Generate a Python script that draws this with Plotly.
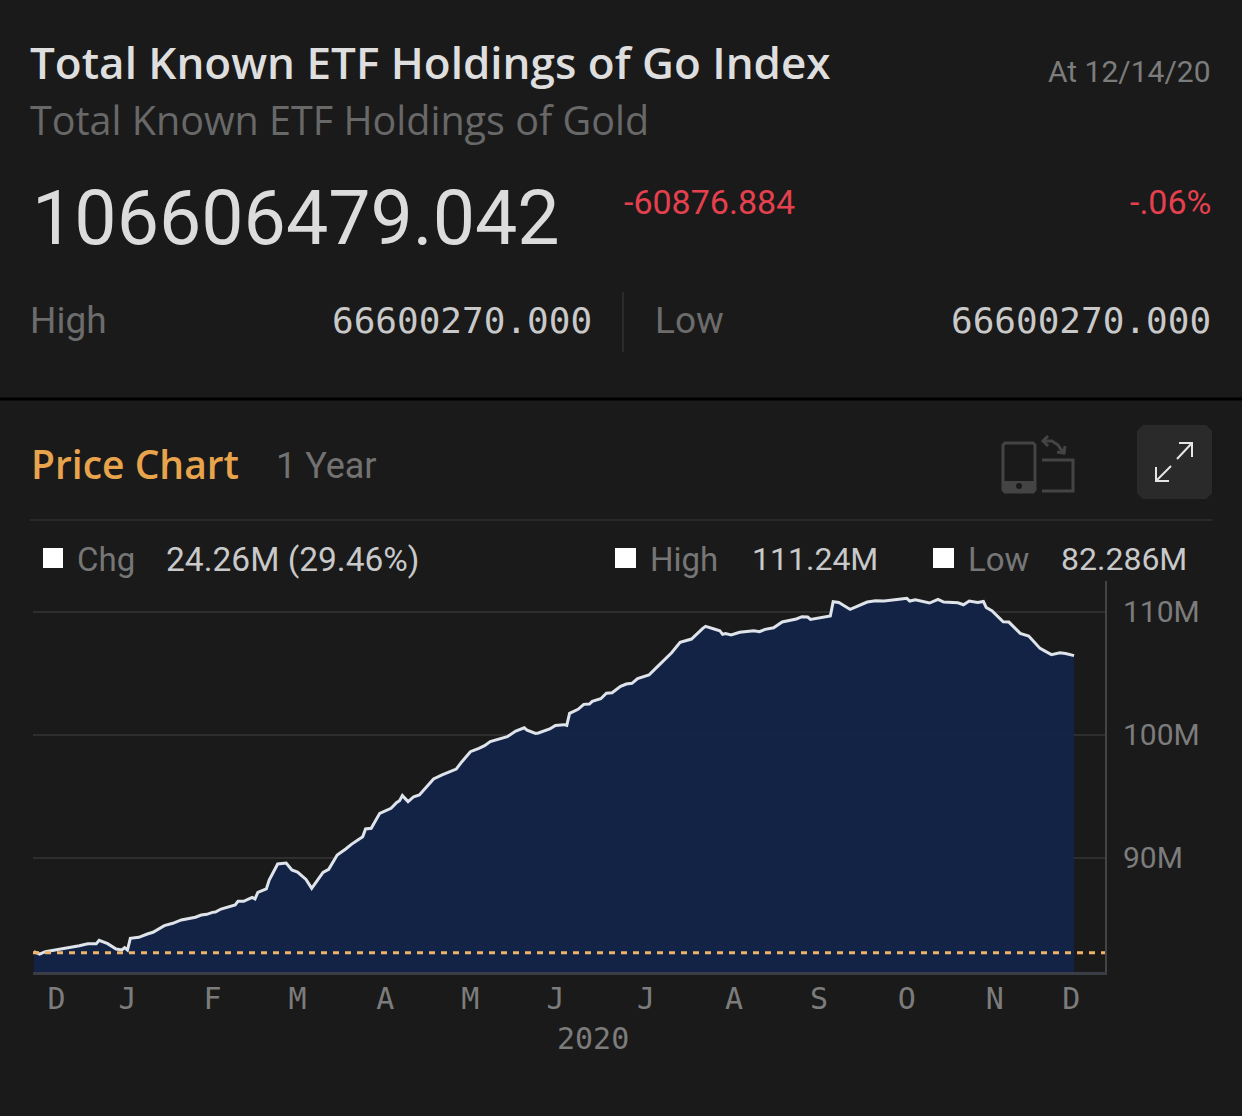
import pandas as pd
import plotly.graph_objects as go

W, H = 1242, 1116
BG = "#1a1a1a"

start_date = "2019-12-13"
day_offsets = [
    0, 2, 4, 9, 12, 16, 19, 22, 23, 26, 29, 31, 32, 33, 34, 37, 40, 42, 46, 49,
    52, 57, 59, 61, 63, 64, 66, 71, 72, 74, 77, 78, 79, 82, 83, 86, 89, 91, 93, 96,
    98, 102, 104, 107, 110, 112, 116, 117, 119, 122, 126, 128, 129, 130, 132, 134, 136,
    141, 144, 147, 149, 151, 154, 157, 159, 161, 167, 170, 173, 174, 177, 178, 182, 184,
    187, 188, 189, 192, 194, 196, 197, 200, 202, 204, 207, 209, 211, 213, 217, 220, 223,
    225, 228, 230, 232, 236, 237, 240, 242, 243, 244, 246, 249, 254, 256, 258, 261, 264,
    266, 269, 271, 273, 274, 277, 281, 282, 284, 288, 291, 294, 297, 300, 306, 308, 309,
    311, 316, 317, 319, 321, 326, 328, 330, 333, 335, 336, 338, 342, 344, 348, 351, 355,
    359, 362, 364, 367,
]
holdings_m = [
    82.38, 82.19, 82.38, 82.57, 82.71, 82.87, 83.03, 83.03, 83.30, 83.03, 82.60, 82.52, 82.71, 82.52, 83.47, 83.55, 83.82, 83.96, 84.50, 84.69,
    84.96, 85.18, 85.36, 85.42, 85.58, 85.61, 85.85, 86.18, 86.48, 86.48, 86.80, 86.67, 87.21, 87.48, 88.21, 89.51, 89.59, 89.02, 88.86, 88.26,
    87.53, 88.83, 89.08, 90.24, 90.73, 91.11, 91.73, 92.36, 92.41, 93.63, 94.04, 94.52, 94.66, 95.07, 94.58, 94.98, 95.12,
    96.42, 96.75, 97.07, 97.23, 97.83, 98.64, 98.91, 99.13, 99.46, 99.86, 100.32, 100.59, 100.40, 100.13, 100.16, 100.49, 100.78,
    100.84, 100.78, 101.76, 102.09, 102.49, 102.52, 102.74, 102.95, 103.39, 103.44, 103.95, 104.14, 104.20, 104.58, 104.88, 105.56, 106.23,
    106.69, 107.53, 107.67, 107.80, 108.67, 108.83, 108.62, 108.48, 108.18, 108.24, 108.13, 108.35, 108.48, 108.40, 108.59, 108.72, 109.19,
    109.29, 109.43, 109.62, 109.59, 109.40, 109.54, 109.67, 110.84, 110.78, 110.21, 110.51, 110.81, 110.92, 110.89, 111.05, 111.11, 110.89,
    111.00, 110.73, 110.84, 111.02, 110.81, 110.75, 110.59, 110.89, 110.78, 110.86, 110.37, 110.10, 109.21, 109.18, 108.26, 108.04, 107.04,
    106.53, 106.69, 106.63, 106.45,
]
low_value_m = 82.286

month_tick_dates = [
    "2019-12-21", "2020-01-15", "2020-02-14", "2020-03-15", "2020-04-15", "2020-05-15", "2020-06-14",
    "2020-07-16", "2020-08-16", "2020-09-15", "2020-10-16", "2020-11-16", "2020-12-13",
]
month_tick_labels = ["D", "J", "F", "M", "A", "M", "J", "J", "A", "S", "O", "N", "D"]
y_ticks = [90, 100, 110]
y_tick_labels = ["90M", "100M", "110M"]


def px(x):
    return x / W


def py(y):
    return 1 - y / H


def text(s, x, y, size, color, anchor="left", family="Roboto", weight=400):
    return dict(
        text=s, x=px(x), y=py(y), xref="paper", yref="paper", showarrow=False,
        xanchor=anchor, yanchor="middle", borderpad=0,
        font=dict(family=family, size=size, color=color, weight=weight),
    )


def line(x0, y0, x1, y1, color, width=2):
    return dict(type="line", xref="paper", yref="paper", x0=px(x0), y0=py(y0), x1=px(x1), y1=py(y1),
                line=dict(color=color, width=width), layer="above")


def box(x0, y0, x1, y1, color):
    return dict(type="rect", xref="paper", yref="paper", x0=px(x0), y0=py(y0), x1=px(x1), y1=py(y1),
                fillcolor=color, line=dict(width=0), layer="above")


def path(points, color, width=2, fill=None, closed=False):
    d = "M " + " L ".join(f"{px(a):.5f},{py(b):.5f}" for a, b in points)
    if closed:
        d += " Z"
    return dict(type="path", xref="paper", yref="paper", path=d, fillcolor=fill,
                line=dict(color=color, width=width), layer="above")


dates = pd.Timestamp(start_date) + pd.to_timedelta(day_offsets, unit="D")

fig = go.Figure()
fig.add_trace(go.Scatter(
    x=dates, y=holdings_m, mode="lines",
    line=dict(color="#dfe3ea", width=3),
    fill="tozeroy", fillcolor="rgba(19,36,73,0.95)",
    hoverinfo="skip",
))
fig.add_hline(y=low_value_m, line=dict(color="#f0b468", width=3, dash="6px,6px"))

GREY = "#767676"
LIGHT = "#c9c9c9"
MONO = "DejaVu Sans Mono"
WIDE = "Open Sans"

annotations = [
    text("Total Known ETF Holdings of Go Index", 29, 62, 44, "#dedede", family=WIDE, weight=600),
    text("At 12/14/20", 1212, 71, 30, "#7c7c7c", anchor="right"),
    text("Total Known ETF Holdings of Gold", 29, 120, 39.5, "#686868", family=WIDE),
    text("106606479.042", 31, 218, 75.3, "#dcdcdc"),
    text("-60876.884", 623, 202, 34, "#e5404e"),
    text("-.06%", 1212, 202, 34, "#e5404e", anchor="right"),
    text("High", 29, 321, 37, "#6c6c6c"),
    text("66600270.000", 593, 320, 36, LIGHT, anchor="right", family=MONO),
    text("Low", 654, 321, 37, "#6c6c6c"),
    text("66600270.000", 1212, 320, 36, LIGHT, anchor="right", family=MONO),
    text("Price Chart", 30, 464, 39, "#e8a44c", family=WIDE, weight=600),
    text("1 Year", 275, 466, 36, "#727272"),
    text("Chg", 76, 559, 33, GREY),
    text("24.26M (29.46%)", 165, 559, 33.5, LIGHT),
    text("High", 649, 559, 33, GREY),
    text("111.24M", 751, 559, 32, LIGHT),
    text("Low", 967, 559, 33, GREY),
    text("82.286M", 1060, 559, 32, LIGHT),
    text("2020", 593, 1038, 30, "#7c7c7c", anchor="center", family=MONO),
]

ICON = "#444444"
shapes = [
    line(0, 399, W, 399, "#000000", 3),
    line(623, 292, 623, 352, "#2b2b2b", 2),
    line(30, 520, 1212, 520, "#2a2a2a", 2),
    box(43, 548, 63, 568, "#ffffff"),
    box(615, 548, 636, 568, "#ffffff"),
    box(933, 548, 954, 568, "#ffffff"),
    # phone icon
    path([(1005, 443), (1033, 443), (1035, 445), (1035, 490), (1033, 492), (1005, 492), (1003, 490), (1003, 445)],
         ICON, 3, closed=True),
    box(1004, 481, 1034, 491, ICON),
    dict(type="circle", xref="paper", yref="paper", x0=px(1016), x1=px(1022), y0=py(489), y1=py(483),
         fillcolor="#1a1a1a", line=dict(width=0), layer="above"),
    path([(1042, 460), (1073, 460), (1073, 491), (1042, 491)], ICON, 3),
    path([(1044, 441), (1052, 441), (1058, 445), (1063, 452)], ICON, 3),
    path([(1048, 436), (1043, 441), (1048, 446)], ICON, 3),
    path([(1057, 452), (1064, 453), (1065, 446)], ICON, 3),
    # expand button
    path([(1143, 425), (1206, 425), (1212, 431), (1212, 493), (1206, 499), (1143, 499), (1137, 493), (1137, 431)],
         "#2a2a2a", 0, fill="#2a2a2a", closed=True),
    line(1177, 459, 1192, 443, "#e6e6e6", 2),
    path([(1179, 443), (1192, 443), (1192, 457)], "#e6e6e6", 2),
    line(1171, 466, 1156, 481, "#e6e6e6", 2),
    path([(1156, 467), (1156, 481), (1169, 481)], "#e6e6e6", 2),
]
for s in shapes:
    fig.add_shape(**s)

fig.update_layout(
    width=W, height=H,
    margin=dict(l=0, r=0, t=0, b=0, pad=0),
    paper_bgcolor=BG, plot_bgcolor=BG,
    showlegend=False,
    annotations=annotations,
    xaxis=dict(
        domain=[px(33), px(1105)],
        range=["2019-12-12 16:00", "2020-12-24 22:00"],
        tickmode="array", tickvals=month_tick_dates, ticktext=month_tick_labels,
        ticks="", showgrid=False, zeroline=False,
        showline=True, linecolor="#3a3d45", linewidth=3,
        tickfont=dict(family=MONO, size=30, color="#7c7c7c"),
        ticklabelstandoff=-2,
    ),
    yaxis=dict(
        domain=[py(972), py(581)],
        range=[80.73, 112.52],
        side="right",
        tickmode="array", tickvals=y_ticks, ticktext=y_tick_labels,
        ticks="", zeroline=False,
        showgrid=True, gridcolor="#2e2e2e", gridwidth=2,
        showline=True, linecolor="#444444", linewidth=2,
        tickfont=dict(family="Roboto", size=30, color="#7c7c7c"),
        ticklabelstandoff=10,
    ),
)

fig.write_html(
    "out.html",
    config={"displayModeBar": False},
    post_script="document.body.style.margin='0';document.body.style.background='#1a1a1a';",
)
